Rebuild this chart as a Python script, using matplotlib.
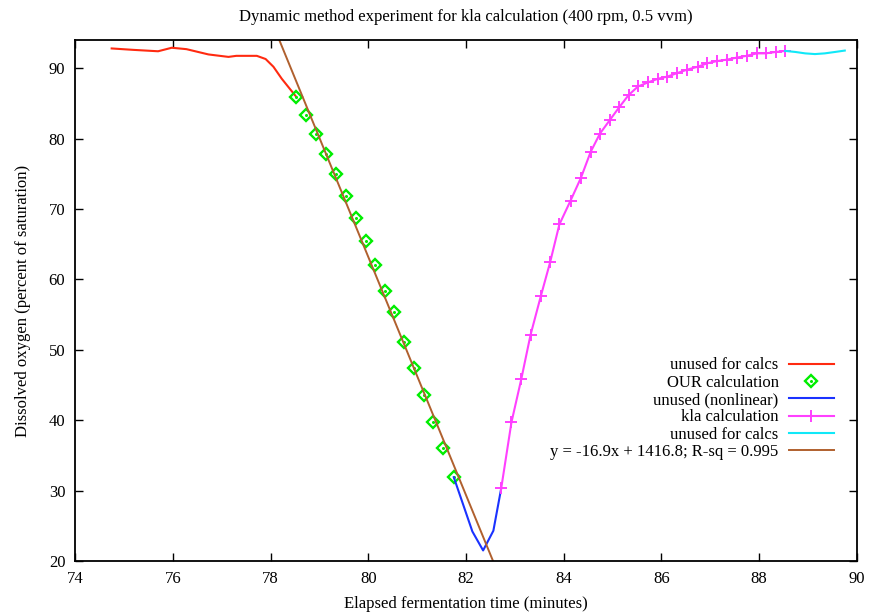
import numpy as np
import matplotlib
matplotlib.use('Agg')
import matplotlib.pyplot as plt

plt.rcParams['font.family'] = ['Liberation Serif', 'DejaVu Serif']

# early readings, not used for the calcs
red_t = [74.75, 75.19, 75.7, 75.98, 76.28, 76.73, 77.14, 77.3, 77.72, 77.9, 78.06, 78.23, 78.53]
red_do = [92.8, 92.6, 92.4, 92.9, 92.7, 91.95, 91.6, 91.75, 91.75, 91.3, 90.2, 88.5, 85.9]

# OUR calculation points (air off)
our_t = [78.53, 78.73, 78.93, 79.14, 79.35, 79.54, 79.74, 79.95, 80.14, 80.34, 80.53,
         80.73, 80.94, 81.14, 81.33, 81.52, 81.75]
our_do = [85.84, 83.33, 80.63, 77.79, 74.95, 71.87, 68.75, 65.4, 62.03, 58.4, 55.4,
          51.15, 47.4, 43.6, 39.8, 36.0, 31.9]

# nonlinear part near the minimum
blue_t = [81.75, 82.13, 82.35, 82.56, 82.72]
blue_do = [31.9, 24.2, 21.5, 24.3, 30.3]

# kla calculation points (air back on)
kla_t = [82.72, 82.93, 83.13, 83.32, 83.53, 83.72, 83.91, 84.14, 84.35, 84.55, 84.74,
         84.95, 85.14, 85.33, 85.52, 85.72, 85.93, 86.12, 86.32, 86.53, 86.74, 86.94,
         87.13, 87.33, 87.54, 87.74, 87.95, 88.13, 88.34, 88.53]
kla_do = [30.3, 39.7, 45.8, 52.1, 57.6, 62.4, 67.8, 71.2, 74.4, 78.1, 80.7,
          82.7, 84.5, 86.2, 87.4, 87.97, 88.5, 88.8, 89.3, 89.8, 90.2, 90.7,
          91.0, 91.2, 91.5, 91.75, 92.1, 92.1, 92.3, 92.45]

# tail, unused
cyan_t = [88.53, 88.74, 88.94, 89.14, 89.34, 89.55, 89.75]
cyan_do = [92.45, 92.3, 92.1, 92.0, 92.1, 92.3, 92.5]

# linear fit on the OUR points
fit_slope = -16.92
fit_intercept = 1416.8
fit_label = 'y = -16.9x + 1416.8; R-sq = 0.995'

fig = plt.figure(figsize=(8.7, 6.15), dpi=100)
ax = fig.add_axes([75/870, 1 - 561/615, (857-75)/870, (561-40)/615])

lw = 1.5
l_red, = ax.plot(red_t, red_do, color='#ff2a10', lw=lw)
m_our, = ax.plot(our_t, our_do, ls='none', marker='D', ms=6, mfc='none', mec='#00ee00', mew=1.7)
m_dot, = ax.plot(our_t, our_do, ls='none', marker='o', ms=1.2, mfc='#00ee00', mec='#00ee00')
l_blue, = ax.plot(blue_t, blue_do, color='#1a32ff', lw=lw)
l_kla, = ax.plot(kla_t, kla_do, color='#ff40ff', lw=lw, marker='+', ms=9, mew=1.4)
l_cyan, = ax.plot(cyan_t, cyan_do, color='#10e8f8', lw=lw)
x_fit = np.array([74, 90])
l_fit, = ax.plot(x_fit, fit_slope * x_fit + fit_intercept, color='#b0602e', lw=1.4)

ax.set_xlim(74, 90)
ax.set_ylim(20, 94)
ax.set_xticks(np.arange(74, 91, 2))
ax.set_yticks(np.arange(20, 91, 10))
ax.tick_params(direction='in', top=True, right=True, length=6, width=1, labelsize=12, pad=7)
for sp in ax.spines.values():
    sp.set_linewidth(1.3)

ax.set_title('Dynamic method experiment for kla calculation (400 rpm, 0.5 vvm)', fontsize=12, pad=14)
ax.set_xlabel('Elapsed fermentation time (minutes)', fontsize=12, labelpad=7)
ax.set_ylabel('Dissolved oxygen (percent of saturation)', fontsize=12, labelpad=13)

handles = [l_red, (m_our, m_dot), l_blue, l_kla, l_cyan, l_fit]
labels = ['unused for calcs', 'OUR calculation', 'unused (nonlinear)', 'kla calculation',
          'unused for calcs', fit_label]
ax.legend(handles, labels, loc='upper right', bbox_to_anchor=(842/870, 1 - 349/615),
          bbox_transform=fig.transFigure, frameon=False, markerfirst=False,
          fontsize=12, labelspacing=0.08, handlelength=2.7, handletextpad=0.6,
          borderpad=0)

fig.savefig('out.png', dpi=100)
